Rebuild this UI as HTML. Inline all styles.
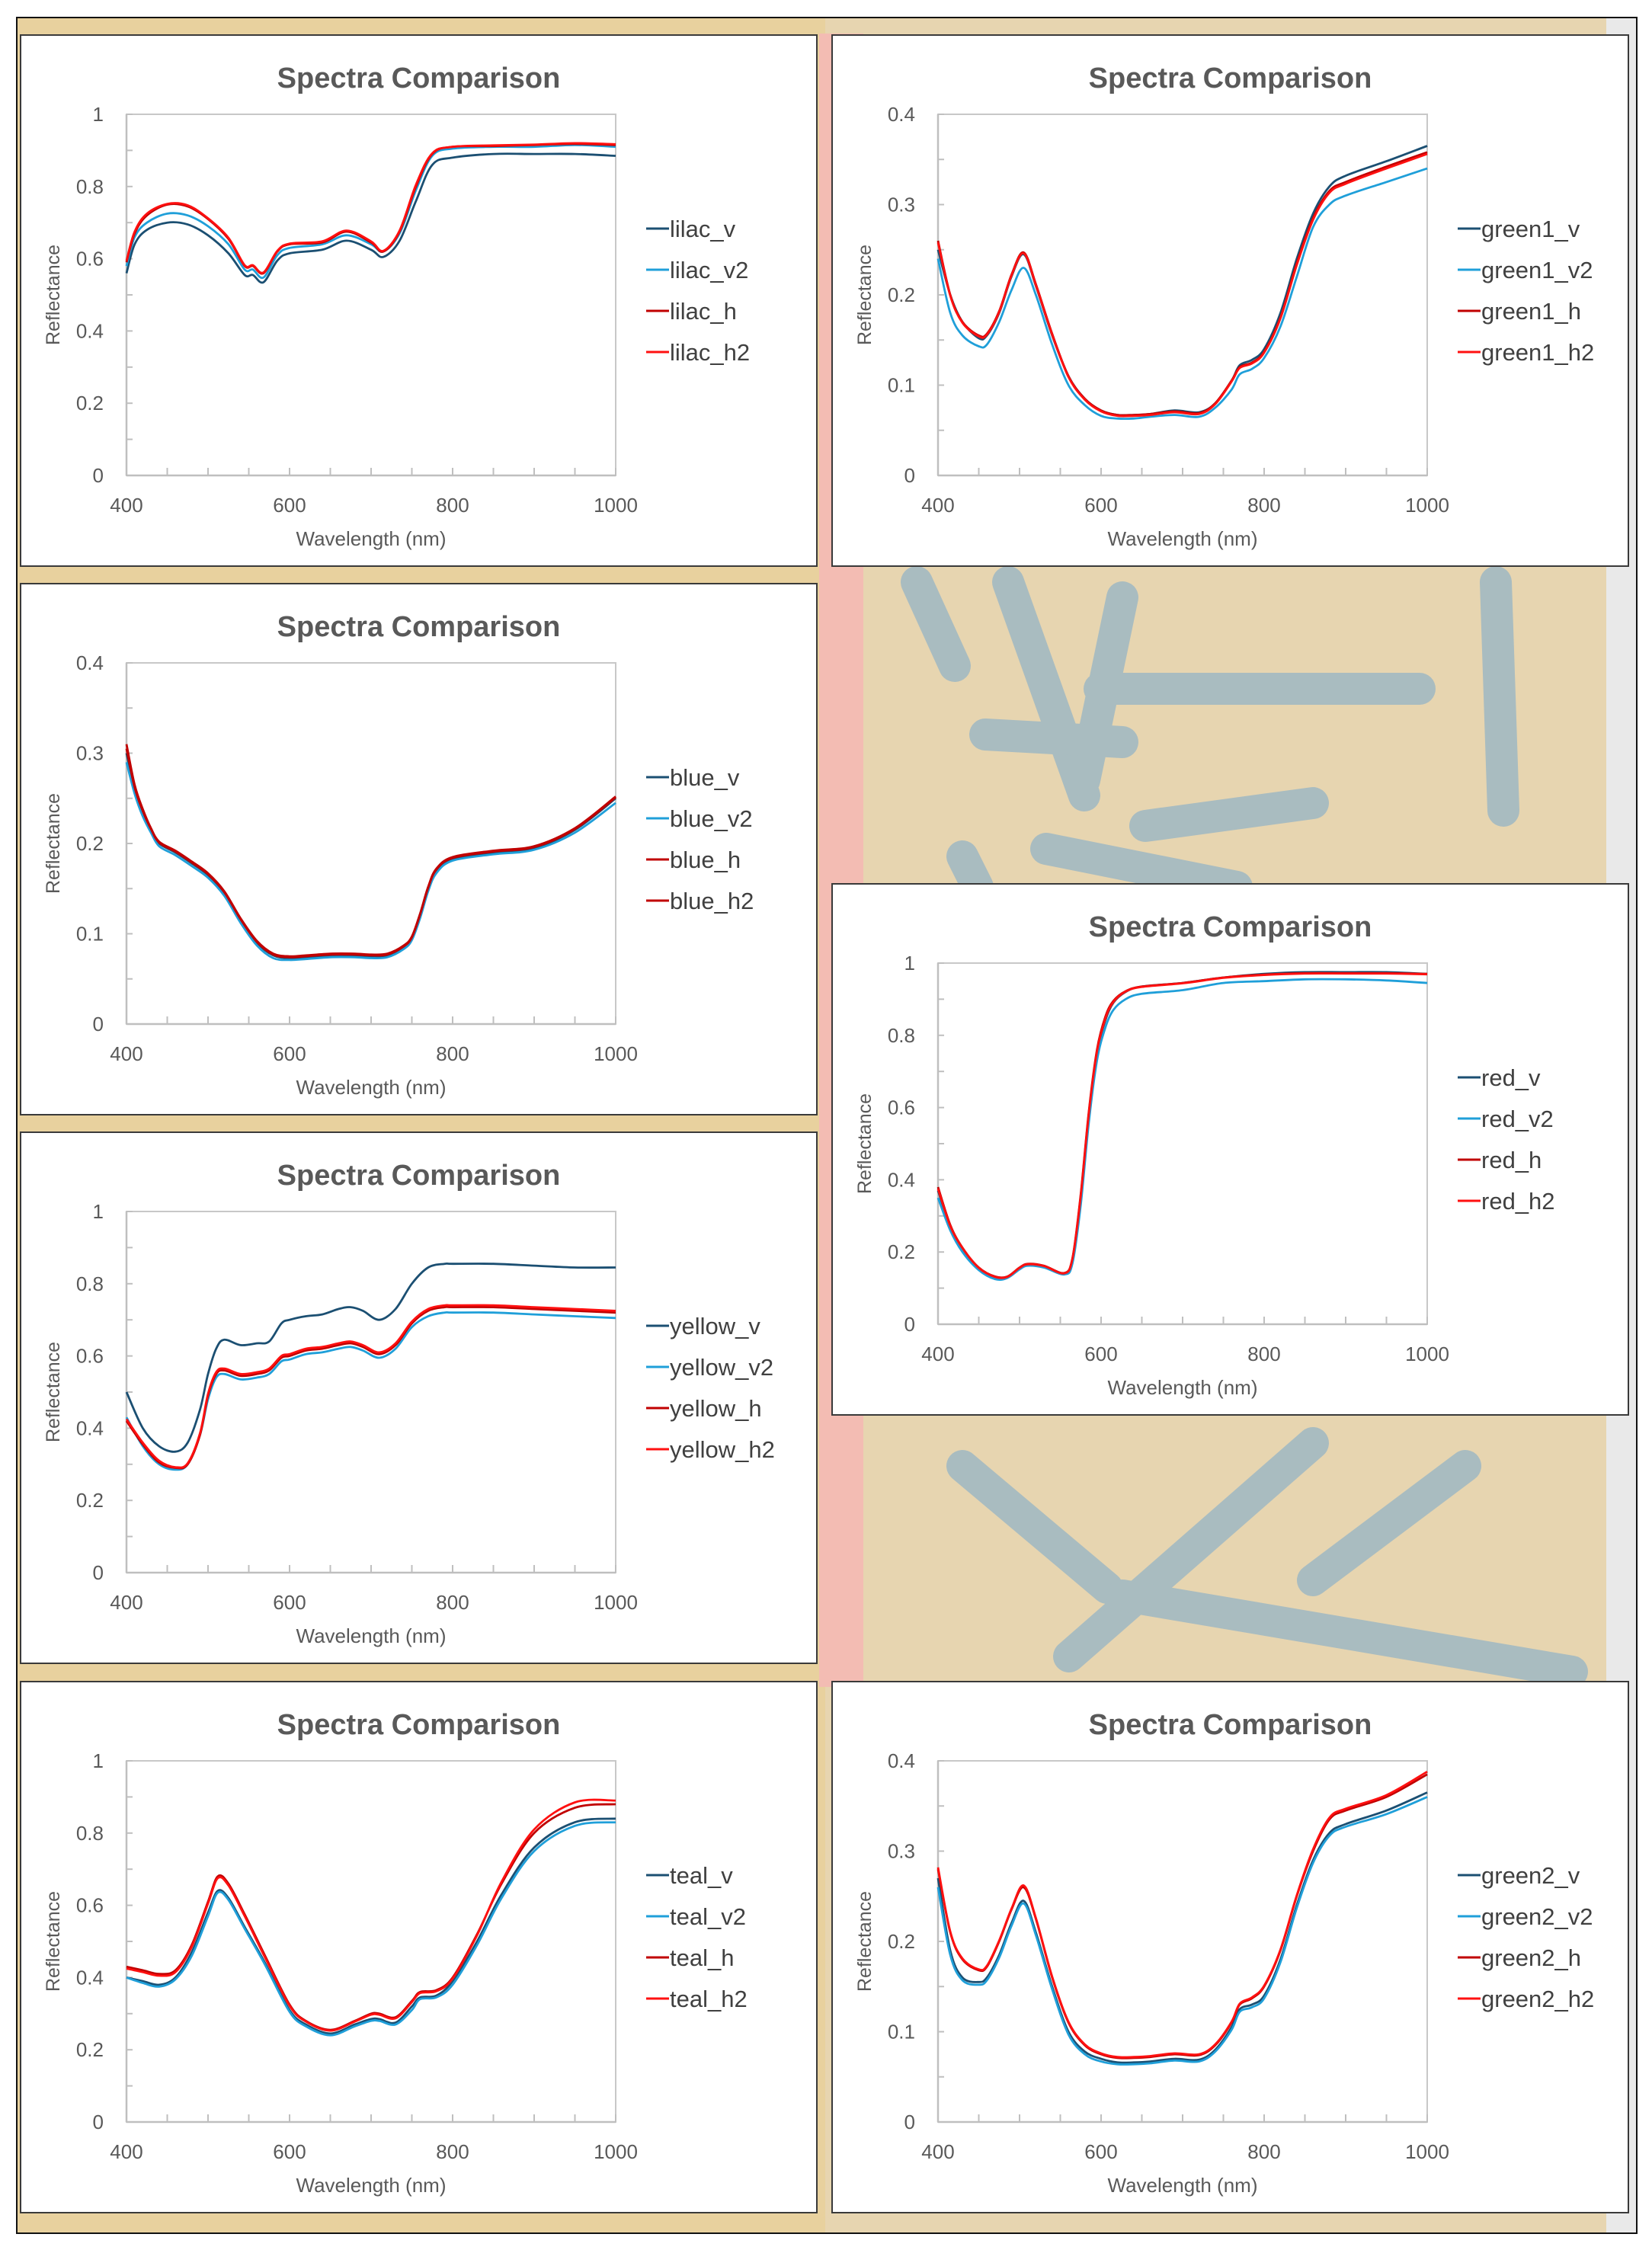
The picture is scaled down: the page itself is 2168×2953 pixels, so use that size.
<!DOCTYPE html>
<html><head><meta charset="utf-8">
<style>
html,body{margin:0;padding:0;background:#fff;}
body{width:2168px;height:2953px;position:relative;overflow:hidden;font-family:"Liberation Sans",sans-serif;}
#frame{position:absolute;left:21px;top:22px;width:2124px;height:2906px;border:2px solid #111;overflow:hidden;
background:linear-gradient(180deg,#e8d8b4 0%,#e6d3ad 50%,#e9d7b0 100%);}
.panel{position:absolute;background:#fff;border:2px solid #3a3a3a;box-sizing:border-box;}
</style></head><body>
<div id="frame">
<svg width="2124" height="2906" style="position:absolute;left:0;top:0">
<rect x="0" y="0" width="2124" height="2906" fill="#e7d5b0"/>
<rect x="0" y="0" width="1060" height="2906" fill="#e9cf9a" opacity="0.8"/>
<rect x="1052" y="20" width="58" height="2170" fill="#f3bcb3"/>
<rect x="2085" y="0" width="39" height="2906" fill="#e9e9e9"/>
<g stroke="#a9bcc0" stroke-width="42" fill="none" stroke-linecap="round">
<path d="M1180 740 L1230 850"/><path d="M1300 740 L1400 1020"/><path d="M1400 1000 L1450 760"/>
<path d="M1420 880 L1840 880"/><path d="M1940 740 L1950 1040"/><path d="M1270 940 L1450 950"/>
<path d="M1240 1100 L1260 1140"/><path d="M1480 1060 L1700 1030"/><path d="M1350 1090 L1600 1140"/>
<path d="M1240 1900 L1430 2060"/><path d="M1700 1870 L1380 2150"/><path d="M1450 2070 L2040 2170"/>
<path d="M1900 1900 L1700 2050"/>
</g>
</svg>
</div>
<div id="charts"></div>
<script>
const colV="#1b4f72",colV2="#1f9fd9",colH="#c00000",colH2="#ff1010";
// ---- lilac ----
const lilacW=[400,410,425,450,475,500,525,545,555,568,585,600,640,670,700,715,735,755,775,800,850,900,950,1000];
const lilacV=[0.56,0.64,0.68,0.70,0.695,0.665,0.615,0.555,0.555,0.535,0.595,0.615,0.625,0.65,0.625,0.605,0.65,0.76,0.86,0.88,0.89,0.89,0.89,0.885];
const lilacV2=[0.58,0.66,0.70,0.725,0.72,0.69,0.64,0.57,0.57,0.548,0.61,0.63,0.64,0.665,0.64,0.62,0.67,0.79,0.885,0.905,0.91,0.91,0.915,0.91];
const lilacH=[0.59,0.67,0.72,0.75,0.745,0.71,0.655,0.58,0.58,0.56,0.62,0.64,0.645,0.675,0.645,0.62,0.675,0.80,0.89,0.91,0.912,0.915,0.918,0.915];
const lilacH2=[0.595,0.675,0.725,0.752,0.748,0.712,0.658,0.582,0.582,0.562,0.622,0.642,0.648,0.678,0.648,0.622,0.678,0.805,0.892,0.91,0.914,0.916,0.92,0.917];
// ---- green1 ----
const g1W=[400,415,430,450,460,475,490,505,520,540,560,580,600,620,640,660,690,720,740,760,770,785,800,820,840,860,880,900,950,1000];
const g1V=[0.25,0.20,0.17,0.152,0.155,0.18,0.22,0.245,0.21,0.155,0.11,0.085,0.072,0.067,0.067,0.068,0.072,0.07,0.08,0.105,0.122,0.128,0.14,0.18,0.24,0.29,0.32,0.332,0.348,0.365];
const g1V2=[0.24,0.18,0.155,0.143,0.145,0.17,0.205,0.23,0.20,0.145,0.10,0.078,0.066,0.063,0.063,0.065,0.067,0.065,0.075,0.095,0.112,0.118,0.13,0.165,0.22,0.275,0.30,0.31,0.325,0.34];
const g1H=[0.26,0.20,0.17,0.155,0.157,0.182,0.222,0.247,0.212,0.157,0.11,0.085,0.072,0.067,0.067,0.068,0.071,0.069,0.08,0.105,0.12,0.125,0.137,0.175,0.235,0.285,0.315,0.325,0.342,0.358];
const g1H2=[0.258,0.199,0.169,0.154,0.156,0.181,0.221,0.246,0.211,0.156,0.109,0.084,0.071,0.066,0.066,0.067,0.07,0.068,0.079,0.104,0.119,0.124,0.136,0.174,0.233,0.283,0.313,0.323,0.34,0.356];
// ---- blue ----
const blW=[400,410,420,430,440,460,480,500,520,540,560,580,600,620,650,680,700,720,740,750,760,770,780,800,850,900,950,1000];
const blV=[0.30,0.26,0.235,0.215,0.20,0.19,0.178,0.165,0.145,0.115,0.09,0.076,0.073,0.074,0.076,0.076,0.075,0.076,0.085,0.095,0.12,0.15,0.17,0.183,0.19,0.195,0.215,0.25];
const blV2=[0.29,0.255,0.23,0.212,0.197,0.187,0.175,0.162,0.142,0.112,0.087,0.073,0.071,0.072,0.074,0.074,0.073,0.074,0.083,0.093,0.117,0.147,0.167,0.181,0.188,0.193,0.212,0.245];
const blH=[0.31,0.265,0.238,0.217,0.202,0.192,0.18,0.167,0.147,0.117,0.092,0.078,0.075,0.076,0.078,0.078,0.077,0.078,0.087,0.097,0.122,0.152,0.172,0.185,0.192,0.197,0.217,0.252];
const blH2=[0.305,0.262,0.236,0.216,0.201,0.191,0.179,0.166,0.146,0.116,0.091,0.077,0.074,0.075,0.077,0.077,0.076,0.077,0.086,0.096,0.121,0.151,0.171,0.184,0.191,0.196,0.216,0.251];
// ---- yellow ----
const yeW=[400,420,440,460,475,490,500,510,520,540,560,575,590,600,620,640,660,675,690,710,730,750,770,790,800,850,900,950,1000];
const yeV=[0.50,0.40,0.35,0.335,0.36,0.45,0.55,0.62,0.645,0.63,0.635,0.64,0.69,0.70,0.71,0.715,0.73,0.735,0.725,0.70,0.73,0.80,0.845,0.855,0.855,0.855,0.85,0.845,0.845];
const yeV2=[0.43,0.35,0.30,0.285,0.30,0.38,0.48,0.54,0.55,0.535,0.54,0.55,0.585,0.59,0.605,0.61,0.62,0.625,0.615,0.595,0.62,0.68,0.71,0.72,0.72,0.72,0.715,0.71,0.705];
const yeH=[0.42,0.355,0.305,0.29,0.30,0.38,0.49,0.55,0.56,0.545,0.55,0.56,0.595,0.60,0.615,0.62,0.63,0.635,0.625,0.605,0.63,0.69,0.725,0.735,0.735,0.735,0.73,0.725,0.72];
const yeH2=[0.425,0.36,0.31,0.292,0.303,0.385,0.495,0.555,0.565,0.55,0.555,0.565,0.6,0.605,0.62,0.625,0.635,0.64,0.63,0.61,0.635,0.695,0.73,0.74,0.74,0.74,0.735,0.73,0.725];
// ---- red ----
const rdW=[400,415,430,450,470,485,500,510,530,555,565,575,585,595,605,615,630,650,700,750,800,850,900,950,1000];
const rdV=[0.37,0.27,0.21,0.155,0.13,0.13,0.155,0.165,0.16,0.14,0.18,0.35,0.58,0.75,0.84,0.89,0.92,0.935,0.945,0.96,0.97,0.975,0.975,0.975,0.97];
const rdV2=[0.35,0.26,0.20,0.15,0.125,0.128,0.152,0.162,0.157,0.138,0.17,0.33,0.56,0.73,0.82,0.87,0.90,0.915,0.925,0.945,0.95,0.955,0.955,0.952,0.945];
const rdH=[0.38,0.275,0.212,0.157,0.132,0.132,0.157,0.167,0.162,0.142,0.185,0.36,0.59,0.76,0.85,0.895,0.922,0.935,0.945,0.96,0.968,0.972,0.972,0.972,0.97];
const rdH2=[0.375,0.272,0.211,0.156,0.131,0.131,0.156,0.166,0.161,0.141,0.183,0.355,0.585,0.755,0.845,0.892,0.921,0.934,0.944,0.959,0.967,0.971,0.971,0.971,0.969];
// ---- teal ----
const tlW=[400,420,440,460,480,500,512,525,545,570,600,620,650,680,700,710,730,750,760,780,800,830,860,900,950,1000];
const tlV=[0.40,0.39,0.38,0.40,0.47,0.58,0.64,0.62,0.54,0.44,0.31,0.27,0.245,0.27,0.285,0.285,0.275,0.32,0.345,0.35,0.39,0.50,0.63,0.76,0.83,0.84];
const tlV2=[0.40,0.385,0.375,0.395,0.46,0.57,0.635,0.615,0.535,0.435,0.305,0.265,0.24,0.265,0.28,0.28,0.27,0.31,0.34,0.345,0.38,0.49,0.62,0.75,0.82,0.83];
const tlH=[0.43,0.42,0.41,0.42,0.49,0.61,0.68,0.66,0.575,0.46,0.325,0.28,0.255,0.28,0.30,0.30,0.29,0.335,0.36,0.365,0.40,0.52,0.66,0.80,0.87,0.88];
const tlH2=[0.425,0.415,0.405,0.415,0.485,0.605,0.675,0.655,0.57,0.455,0.322,0.278,0.253,0.278,0.297,0.297,0.287,0.332,0.357,0.362,0.397,0.517,0.665,0.81,0.885,0.89];
// ---- green2 ----
const g2W=[400,415,430,450,460,475,490,505,520,540,560,580,600,620,640,660,690,720,740,760,770,785,800,820,840,860,880,900,950,1000];
const g2V=[0.27,0.19,0.16,0.155,0.16,0.185,0.22,0.245,0.21,0.15,0.10,0.078,0.07,0.066,0.066,0.067,0.07,0.069,0.08,0.105,0.125,0.13,0.14,0.18,0.24,0.29,0.32,0.33,0.345,0.365];
const g2V2=[0.26,0.185,0.157,0.152,0.157,0.182,0.217,0.242,0.207,0.147,0.097,0.075,0.067,0.064,0.064,0.065,0.068,0.067,0.078,0.102,0.122,0.127,0.137,0.177,0.237,0.287,0.317,0.327,0.341,0.36];
const g2H=[0.28,0.21,0.18,0.168,0.172,0.20,0.235,0.26,0.225,0.16,0.11,0.085,0.075,0.071,0.071,0.072,0.075,0.074,0.085,0.11,0.13,0.137,0.15,0.19,0.25,0.30,0.335,0.345,0.36,0.385];
const g2H2=[0.282,0.211,0.181,0.169,0.173,0.201,0.236,0.262,0.226,0.161,0.111,0.086,0.076,0.072,0.072,0.073,0.076,0.075,0.086,0.111,0.131,0.138,0.151,0.191,0.251,0.302,0.337,0.347,0.362,0.388];

const yTicks1=["0","0.2","0.4","0.6","0.8","1"];
const yTicks04=["0","0.1","0.2","0.3","0.4"];
const xTicks=["400","600","800","1000"];

const charts=[
 {id:"lilac",x:26,y:45,ymax:1,yt:yTicks1,w:lilacW,s:[["lilac_v",lilacV,colV],["lilac_v2",lilacV2,colV2],["lilac_h",lilacH,colH],["lilac_h2",lilacH2,colH2]]},
 {id:"green1",x:1091,y:45,ymax:0.4,yt:yTicks04,w:g1W,s:[["green1_v",g1V,colV],["green1_v2",g1V2,colV2],["green1_h",g1H,colH],["green1_h2",g1H2,colH2]]},
 {id:"blue",x:26,y:765,ymax:0.4,yt:yTicks04,w:blW,s:[["blue_v",blV,colV],["blue_v2",blV2,colV2],["blue_h",blH,colH],["blue_h2",blH2,colH]]},
 {id:"yellow",x:26,y:1485,ymax:1,yt:yTicks1,w:yeW,s:[["yellow_v",yeV,colV],["yellow_v2",yeV2,colV2],["yellow_h",yeH,colH],["yellow_h2",yeH2,colH2]]},
 {id:"red",x:1091,y:1159,ymax:1,yt:yTicks1,w:rdW,s:[["red_v",rdV,colV],["red_v2",rdV2,colV2],["red_h",rdH,colH],["red_h2",rdH2,colH2]]},
 {id:"teal",x:26,y:2206,ymax:1,yt:yTicks1,w:tlW,s:[["teal_v",tlV,colV],["teal_v2",tlV2,colV2],["teal_h",tlH,colH],["teal_h2",tlH2,colH2]]},
 {id:"green2",x:1091,y:2206,ymax:0.4,yt:yTicks04,w:g2W,s:[["green2_v",g2V,colV],["green2_v2",g2V2,colV2],["green2_h",g2H,colH],["green2_h2",g2H2,colH2]]}
];
const NS="http://www.w3.org/2000/svg";
function mk(tag,attrs,parent){const e=document.createElementNS(NS,tag);for(const k in attrs)e.setAttribute(k,attrs[k]);if(parent)parent.appendChild(e);return e;}
function smooth(pts){let d="M"+pts[0][0].toFixed(1)+" "+pts[0][1].toFixed(1);
 for(let i=0;i<pts.length-1;i++){const p0=pts[i-1]||pts[i],p1=pts[i],p2=pts[i+1],p3=pts[i+2]||p2;
  const c1x=p1[0]+(p2[0]-p0[0])/6,c1y=p1[1]+(p2[1]-p0[1])/6,c2x=p2[0]-(p3[0]-p1[0])/6,c2y=p2[1]-(p3[1]-p1[1])/6;
  d+=" C"+c1x.toFixed(1)+" "+c1y.toFixed(1)+" "+c2x.toFixed(1)+" "+c2y.toFixed(1)+" "+p2[0].toFixed(1)+" "+p2[1].toFixed(1);}
 return d;}
const host=document.getElementById('charts');
const PW=1047,PH=699,L=140,T=105,W=642,H=474;
charts.forEach(c=>{
 const div=document.createElement('div');div.className='panel';
 div.style.left=c.x+'px';div.style.top=c.y+'px';div.style.width=PW+'px';div.style.height=PH+'px';
 
 
 host.appendChild(div);
 const svg=mk('svg',{width:PW-4,height:PH-4,style:'position:absolute;left:0;top:0'},div);
 
 
 const g=mk('g',{transform:'translate(-2,-2)'},svg);
 const xs=v=>L+(v-400)/600*W, ys=v=>T+H-v/c.ymax*H;
 const t=mk('text',{x:PW/2,y:70,'text-anchor':'middle','font-size':38,'font-weight':'bold',fill:'#595959'},g);t.textContent='Spectra Comparison';
 
 
 const box=mk('rect',{x:L,y:T,width:W,height:H,fill:'none',stroke:'#c8c8c8','stroke-width':2},g);
 
 
 mk('line',{x1:L,y1:T+H,x2:L+W,y2:T+H,stroke:'#bfbfbf','stroke-width':2.5},g);
 mk('line',{x1:L,y1:T,x2:L,y2:T+H,stroke:'#bfbfbf','stroke-width':2.5},g);
 const n=c.yt.length-1;
 for(let i=0;i<=2*n;i++){const yy=T+H-i/(2*n)*H;mk('line',{x1:L,y1:yy,x2:L+8,y2:yy,stroke:'#bfbfbf','stroke-width':2},g);}
 c.yt.forEach((lab,i)=>{const tt=mk('text',{x:L-30,y:T+H-i/n*H+9,'text-anchor':'end','font-size':26,fill:'#595959'},g);tt.textContent=lab;
  
  });
 for(let v=400;v<=1000;v+=50){const xx=xs(v);mk('line',{x1:xx,y1:T+H,x2:xx,y2:T+H-10,stroke:'#bfbfbf','stroke-width':2},g);}
 xTicks.forEach(lab=>{const tt=mk('text',{x:xs(+lab),y:T+H+48,'text-anchor':'middle','font-size':26,fill:'#595959'},g);tt.textContent=lab;
  
  });
 const xt=mk('text',{x:L+W/2,y:T+H+92,'text-anchor':'middle','font-size':26,fill:'#595959'},g);xt.textContent='Wavelength (nm)';
 
 
 const yt=mk('text',{x:0,y:0,'text-anchor':'middle','font-size':25,fill:'#595959',transform:'translate(52,'+(T+H/2)+') rotate(-90)'},g);yt.textContent='Reflectance';
 
 
 c.s.forEach((s,k)=>{
  const pts=c.w.map((wv,i)=>[xs(wv),ys(s[1][i])]);
  const p=mk('path',{d:smooth(pts),fill:'none',stroke:s[2],'stroke-width':2.8},g);
  
  
  const ly=255+k*54;
  const lg=mk('g',{},g);
  
  
  mk('line',{x1:822,y1:ly,x2:852,y2:ly,stroke:s[2],'stroke-width':3},lg);
  const lt=mk('text',{x:853,y:ly+11,'font-size':31,fill:'#404040'},lg);lt.textContent=s[0];
 });
});
</script>
</body></html>
